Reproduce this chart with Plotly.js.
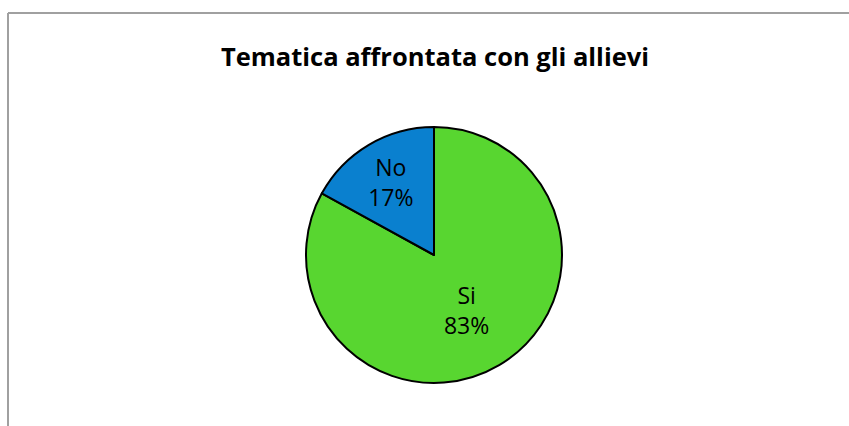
<!DOCTYPE html>
<html>
<head>
<meta charset="utf-8">
<script src="https://cdn.plot.ly/plotly-3.0.1.min.js"></script>
<style>html,body{margin:0;padding:0;background:#fff;}#chart{width:849px;height:426px;}</style>
</head>
<body>
<div id="chart"></div>
<script>
var categories = ["Si", "No"];
var values = [83, 17];
var colors = ["#58D630", "#0A80CF"];
var chartTitle = "Tematica affrontata con gli allievi";

var W = 849, H = 426;
var cx = 434, cy = 255, r = 128;

var trace = {
  type: "pie",
  labels: categories,
  values: values,
  sort: false,
  direction: "clockwise",
  rotation: 0,
  marker: {colors: colors, line: {color: "#000000", width: 2}},
  texttemplate: "%{label}<br>%{percent:.0%}",
  textposition: "inside",
  insidetextorientation: "horizontal",
  textfont: {family: "Open Sans, sans-serif", size: 23, color: "#000000"},
  hoverinfo: "none",
  showlegend: false,
  domain: {x: [(cx - r) / W, (cx + r) / W], y: [(H - cy - r) / H, (H - cy + r) / H]}
};

var layout = {
  width: W, height: H,
  margin: {l: 0, r: 0, t: 0, b: 0},
  paper_bgcolor: "#ffffff",
  title: {text: "<b>" + chartTitle + "</b>", x: 435 / W, xanchor: "center", y: 1 - 57 / H, yanchor: "middle",
          font: {family: "Open Sans, sans-serif", size: 25.5, color: "#000000"}},
  shapes: [
    {type: "line", xref: "paper", yref: "paper", x0: 8 / W, x1: 1.02, y0: 1 - 13 / H, y1: 1 - 13 / H, line: {color: "#A0A0A0", width: 2}},
    {type: "line", xref: "paper", yref: "paper", x0: 8 / W, x1: 8 / W, y0: 1 - 13 / H, y1: -0.02, line: {color: "#A0A0A0", width: 2}}
  ]
};

Plotly.newPlot("chart", [trace], layout, {displayModeBar: false, staticPlot: true});
</script>
</body>
</html>
